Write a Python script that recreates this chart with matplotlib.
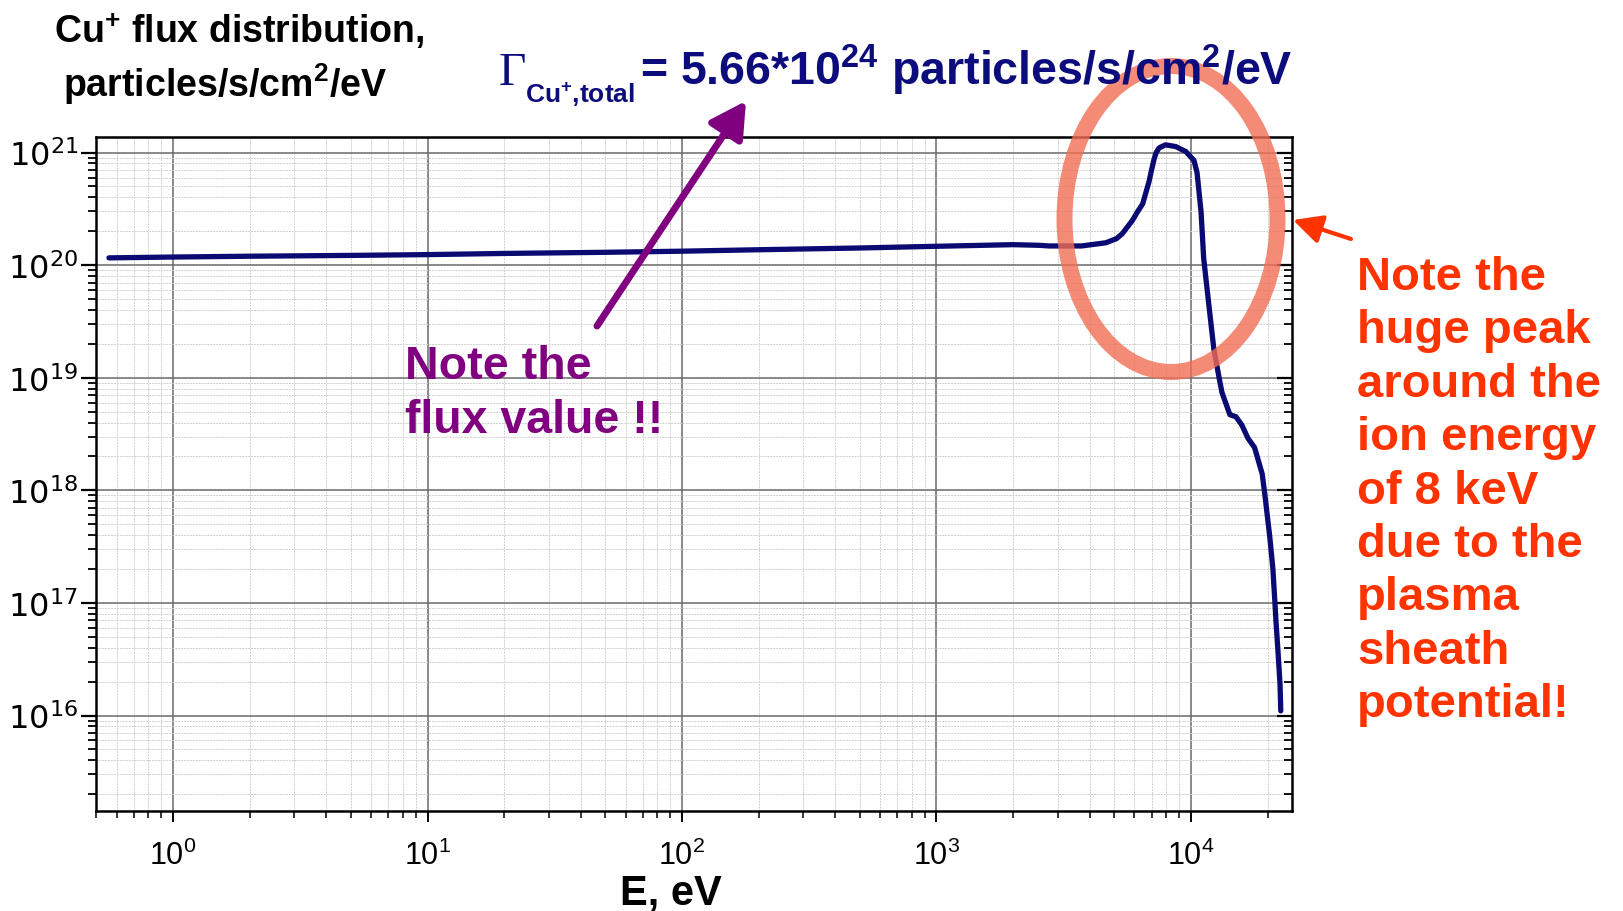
import numpy as np
import matplotlib
matplotlib.use("Agg")
import matplotlib.pyplot as plt
from matplotlib.patches import Ellipse
from matplotlib.ticker import LogLocator, NullFormatter, FixedLocator

plt.rcParams['mathtext.default'] = 'regular'

# Cu+ flux distribution (E in eV, flux in particles/s/cm2/eV)
energy = [0.56, 1, 2, 5, 10, 20, 50, 100, 200, 500, 1000, 2000, 2530, 2770,
          3715, 4630, 5100, 5370, 5890, 6150, 6460, 6840, 7000, 7160, 7300, 7500,
          7940, 8710, 9550, 10280, 10570, 10960, 11220, 11750, 12300, 12900,
          13240, 14220, 15030, 15850, 16750, 17780, 19050, 19500, 20420, 20990,
          21380, 21580, 21980, 22390, 22540]
flux = [1.16e20, 1.18e20, 1.20e20, 1.22e20, 1.24e20, 1.27e20, 1.30e20, 1.33e20,
        1.37e20, 1.42e20, 1.47e20, 1.52e20, 1.50e20, 1.48e20,
        1.48e20, 1.58e20, 1.72e20, 1.90e20, 2.5e20, 2.95e20, 3.5e20, 5.5e20,
        7.0e20, 8.7e20, 1.0e21, 1.10e21,
        1.17e21, 1.13e21, 1.02e21, 8.5e20, 6.6e20, 2.95e20, 1.15e20, 4.5e19,
        1.8e19, 1.0e19, 7.4e18, 4.7e18, 4.5e18, 3.8e18, 2.9e18, 2.4e18, 1.4e18,
        9.3e17, 3.8e17, 2.0e17, 1.0e17, 6.9e16, 3.7e16, 1.9e16, 1.1e16]

x_major = [1, 10, 100, 1000, 10000]
y_major = [1e16, 1e17, 1e18, 1e19, 1e20, 1e21]

title_lines = [r"Cu$^{+}$ flux distribution,", r"particles/s/cm$^{2}$/eV"]
gamma_sub = r"Cu$^{+}$,total"
gamma_value = r"= 5.66*10$^{24}$ particles/s/cm$^{2}$/eV"
purple_lines = ["Note the", "flux value !!"]
red_lines = ["Note the", "huge peak", "around the", "ion energy", "of 8 keV",
             "due to the", "plasma", "sheath", "potential!"]

W, H = 1623, 912
navy = '#0c0c7c'
purple = '#800080'
red = '#ff3300'
sans = ['Liberation Sans', 'DejaVu Sans']

def fx(x):
    return x / W

def fy(y):
    return 1 - y / H

fig = plt.figure(figsize=(W / 100, H / 100), dpi=100)
ax = fig.add_axes([fx(96), fy(812), (1292 - 96) / W, (812 - 138) / H])

ax.plot(energy, flux, color='#0a0a72', lw=3.8, solid_capstyle='round', solid_joinstyle='round')
ax.set_xscale('log')
ax.set_yscale('log')
ax.set_xlim(0.498, 24950)
ax.set_ylim(10 ** 15.152, 10 ** 21.138)

ax.xaxis.set_major_locator(FixedLocator(x_major))
ax.yaxis.set_major_locator(FixedLocator(y_major))
for axis in (ax.xaxis, ax.yaxis):
    axis.set_minor_locator(LogLocator(base=10, subs=np.arange(2, 10), numticks=100))
    axis.set_minor_formatter(NullFormatter())
ax.set_xticks(x_major, [r"$10^{%d}$" % int(np.log10(v)) for v in x_major])
ax.set_yticks(y_major, [r"$10^{%d}$" % int(np.log10(v)) for v in y_major])

ax.grid(which='major', color='#6a6a6a', lw=1.1)
ax.grid(which='minor', color='#d0d0d0', lw=0.7, ls=(0, (2, 1)))
ax.set_axisbelow(True)
for s in ax.spines.values():
    s.set_linewidth(1.8)

ax.tick_params(axis='y', which='major', direction='out', length=11, width=1.6, pad=2,
               labelsize=23, labelfontfamily='DejaVu Sans')
ax.tick_params(axis='y', which='minor', direction='out', length=6, width=1.3)
ax.tick_params(axis='x', which='major', direction='out', length=8, width=1.4, pad=13,
               labelsize=22, labelfontfamily='Liberation Sans')
ax.tick_params(axis='x', which='minor', direction='out', length=5, width=1.1)

axr = ax.twinx()
axr.set_yscale('log')
axr.set_ylim(ax.get_ylim())
axr.yaxis.set_major_locator(FixedLocator(y_major))
axr.yaxis.set_minor_locator(LogLocator(base=10, subs=np.arange(2, 10), numticks=100))
axr.yaxis.set_minor_formatter(NullFormatter())
axr.tick_params(which='major', direction='in', length=11, width=1.6, labelright=False)
axr.tick_params(which='minor', direction='in', length=6, width=1.3)
for s in axr.spines.values():
    s.set_visible(False)

fig.text(fx(671), fy(905), "E, eV", family=sans, weight='bold', size=30,
         ha='center', va='baseline')

# title at top left
fig.text(fx(54), fy(43), title_lines[0], family=sans, weight='bold', size=27, va='baseline')
fig.text(fx(63), fy(97), title_lines[1], family=sans, weight='bold', size=27, va='baseline')

# total flux formula
fig.text(fx(499), fy(85), "\u0393", family=['Liberation Serif', 'DejaVu Serif'], size=34,
         color=navy, va='baseline')
fig.text(fx(525), fy(103), gamma_sub, family=sans, weight='bold', size=19,
         color=navy, va='baseline')
fig.text(fx(640), fy(85), gamma_value, family=sans, weight='bold', size=33.5,
         color=navy, va='baseline')

# purple note + arrow
for i, line in enumerate(purple_lines):
    fig.text(fx(405), fy(379 + 54 * i), line, family=sans, weight='bold', size=33.5,
             color=purple, va='baseline')
fig.add_artist(plt.Annotation("", xy=(746, H - 102), xytext=(597, H - 327),
                              xycoords='figure pixels', textcoords='figure pixels',
                              arrowprops=dict(arrowstyle='-|>,head_length=0.9,head_width=0.5',
                                              lw=5, color=purple, mutation_scale=24,
                                              shrinkA=0, shrinkB=0)))

# red note + arrow
for i, line in enumerate(red_lines):
    fig.text(fx(1357), fy(290 + 53.4 * i), line, family=sans, weight='bold', size=34,
             color=red, va='baseline')
fig.add_artist(plt.Annotation("", xy=(1293, H - 221), xytext=(1351, H - 240),
                              xycoords='figure pixels', textcoords='figure pixels',
                              arrowprops=dict(arrowstyle='-|>,head_length=0.8,head_width=0.4',
                                              lw=3, color=red, mutation_scale=22,
                                              shrinkA=0, shrinkB=0)))

# highlight ring around the peak
fig.add_artist(Ellipse((fx(1171), fy(220)), 213 / W, 306 / H, transform=fig.transFigure,
                       fill=False, lw=11.5, ec='#f26e54', alpha=0.8))

fig.savefig("out.png", dpi=100, facecolor='white')
